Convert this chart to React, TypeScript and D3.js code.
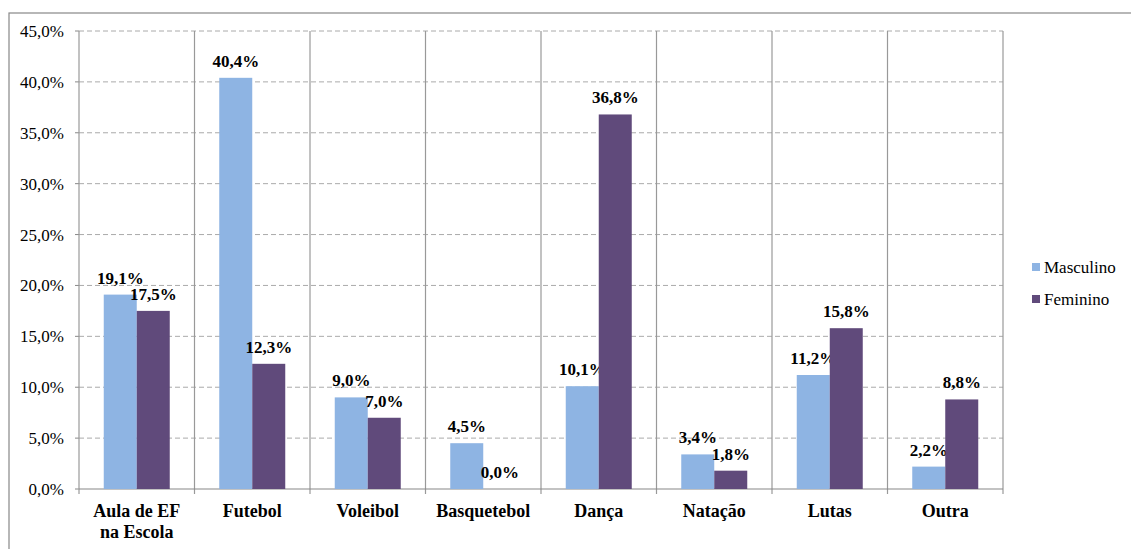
import React from "react";
import * as d3 from "d3";

const categories = ["Aula de EF\nna Escola", "Futebol", "Voleibol", "Basquetebol", "Dança", "Natação", "Lutas", "Outra"];
const masculino = [19.1, 40.4, 9.0, 4.5, 10.1, 3.4, 11.2, 2.2];
const feminino = [17.5, 12.3, 7.0, 0.0, 36.8, 1.8, 15.8, 8.8];
const seriesNames = ["Masculino", "Feminino"];
const yTicks = [0, 5, 10, 15, 20, 25, 30, 35, 40, 45];

const colors = ["#8EB4E3", "#604A7B"];
const fmt = (v: number) => v.toFixed(1).replace(".", ",") + "%";

export default function App() {
  const W = 1131, H = 549;
  const left = 79, right = 1003, top = 31, bottom = 489;
  const x = d3.scaleBand<number>().domain(d3.range(categories.length)).range([left, right]).paddingInner(0).paddingOuter(0);
  const y = d3.scaleLinear().domain([0, 45]).range([bottom, top]);
  const bw = 33;
  const font = "Liberation Serif";
  const series = [masculino, feminino];
  return (
    <svg width={W} height={H} style={{ position: "absolute", left: 0, top: 0 }}>
      <rect x={0} y={0} width={W} height={H} fill="#fff" />
      <rect x={9} y={13} width={W + 20} height={H + 20} fill="none" stroke="#888" strokeWidth={1.2} />
      {yTicks.map((t) => (
        <g key={t}>
          {t > 0 && (
            <line x1={left} x2={right} y1={y(t)} y2={y(t)} stroke="#AAA" strokeDasharray="5,3" />
          )}
          <line x1={left - 4} x2={left} y1={y(t)} y2={y(t)} stroke="#888" />
          <text x={64} y={y(t) + 6} textAnchor="end" fontFamily={font} fontSize={17}>
            {fmt(t)}
          </text>
        </g>
      ))}
      {d3.range(categories.length + 1).map((i) => {
        const xx = left + i * x.bandwidth();
        return <line key={i} x1={xx} x2={xx} y1={top} y2={bottom + 5} stroke="#999" strokeWidth={1.2} />;
      })}
      <line x1={left} x2={right} y1={bottom} y2={bottom} stroke="#888" strokeWidth={1.2} />
      {categories.map((c, i) => {
        const cx = (x(i) as number) + x.bandwidth() / 2;
        return (
          <g key={i}>
            {series.map((s, k) => {
              const bx = cx - bw + k * bw;
              const v = s[i];
              return (
                <g key={k}>
                  <rect x={bx} y={y(v)} width={bw} height={bottom - y(v)} fill={colors[k]} />
                  <text x={bx + bw / 2} y={y(v) - 11} textAnchor="middle" fontFamily={font} fontWeight="bold" fontSize={17}>
                    {fmt(v)}
                  </text>
                </g>
              );
            })}
            {c.split("\n").map((line, j) => (
              <text key={j} x={cx} y={517 + j * 21} textAnchor="middle" fontFamily={font} fontWeight="bold" fontSize={18}>
                {line}
              </text>
            ))}
          </g>
        );
      })}
      {seriesNames.map((n, k) => (
        <g key={n}>
          <rect x={1032} y={263 + k * 32} width={8} height={8} fill={colors[k]} />
          <text x={1044} y={273 + k * 32} fontFamily={font} fontSize={17}>
            {n}
          </text>
        </g>
      ))}
    </svg>
  );
}
